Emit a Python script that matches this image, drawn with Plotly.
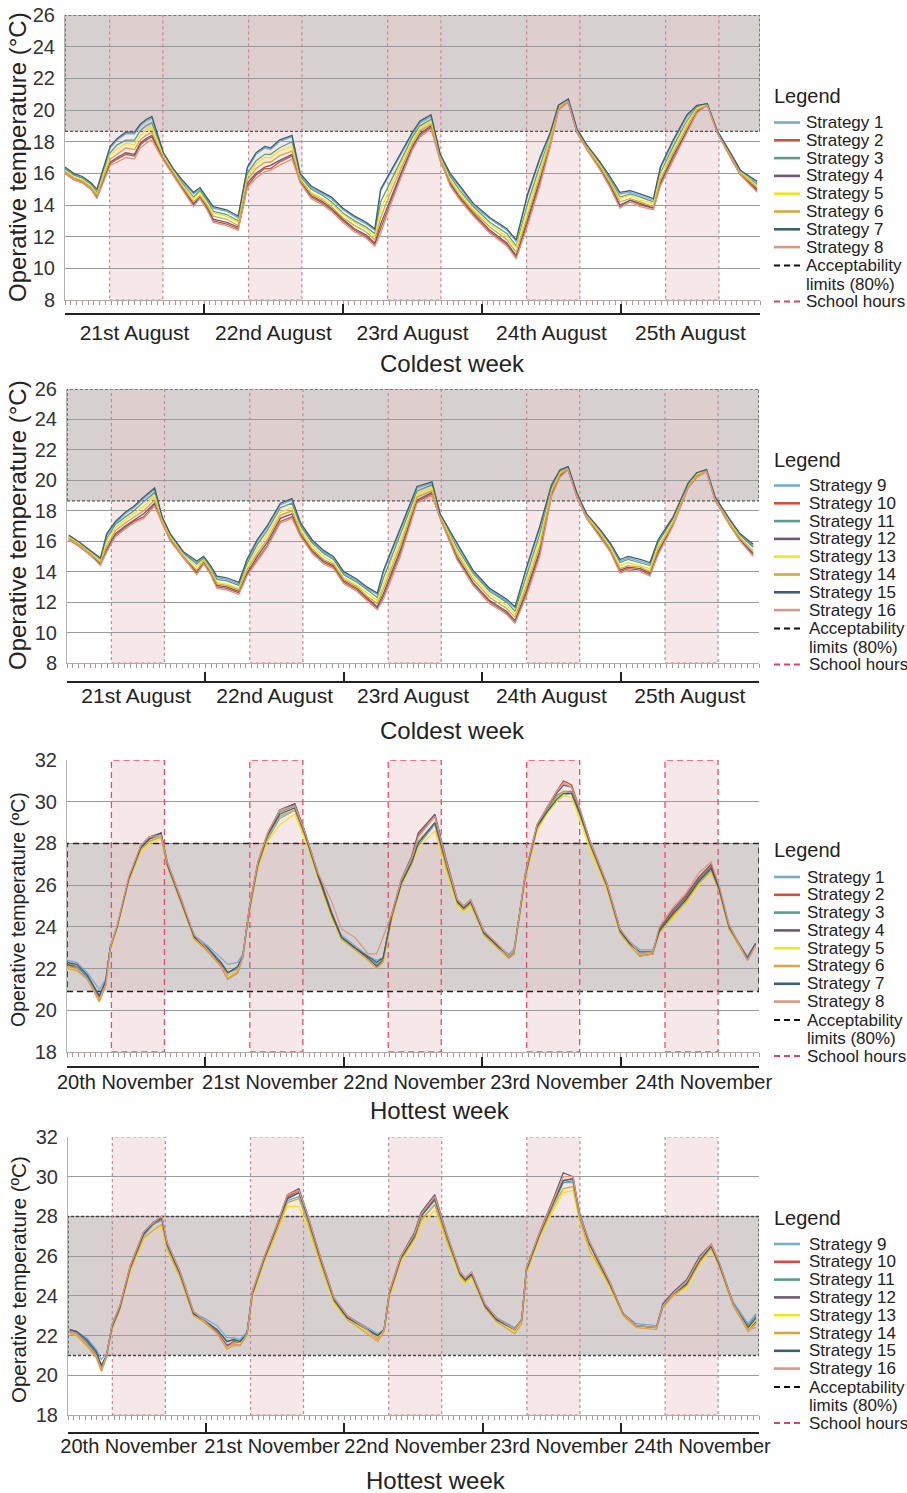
import plotly.graph_objects as go

W, H = 907, 1493
FONT = "Liberation Sans, Arial, Helvetica, sans-serif"

# ---------------- data ----------------
cold_days = ["21st August", "22nd August", "23rd August", "24th August", "25th August"]
hot_days = ["20th November", "21st November", "22nd November", "23rd November", "24th November"]
day_start_hours = [0, 24, 48, 72, 96, 120]
school_start = [7.7, 31.7, 55.7, 79.7, 103.7]
school_end = [16.9, 40.9, 64.9, 88.9, 112.9]
cold_limits = [18.65, 26.0]
hot_limits_a = [20.9, 28.0]
hot_limits_b = [21.0, 28.0]

names_a = ["Strategy 1", "Strategy 2", "Strategy 3", "Strategy 4",
           "Strategy 5", "Strategy 6", "Strategy 7", "Strategy 8"]
names_b = ["Strategy 9", "Strategy 10", "Strategy 11", "Strategy 12",
           "Strategy 13", "Strategy 14", "Strategy 15", "Strategy 16"]
strategy_colors = ["#74acd0", "#d0503a", "#5c9c8c", "#6e5a70",
                   "#f4e41c", "#d8a83a", "#3e5e72", "#dc9684"]

# Panel 1: coldest week, strategies 1-8
hours_c1 = [0, 1.5, 3, 4.5, 5.5, 7.8, 9, 10.5, 12, 13,
            14, 15, 17, 18.7, 20.2, 22.2, 23.3, 24.5, 25.6, 27.9,
            29.9, 31.5, 33, 34.5, 35.5, 37, 39.2, 40.6, 42.5, 44.5,
            46, 48, 50, 52, 53.5, 54.5, 56, 58, 60, 61.3,
            63.2, 64.8, 66.5, 68.2, 70.5, 73.4, 76.3, 77.9, 79.8, 82,
            83.8, 85.2, 86.9, 88.4, 90.1, 92.4, 94.1, 95.8, 97.6, 99.3,
            101.6, 102.8, 105, 107.4, 109.1, 110.9, 112.6, 114.9, 116.6, 119.5]
c1_s1 = [16.3, 15.9, 15.7, 15.3, 14.9, 17.6, 18.1, 18.5, 18.5, 19.0,
         19.3, 19.5, 17.2, 16.2, 15.5, 14.7, 15.0, 14.4, 13.8, 13.6,
         13.2, 16.3, 17.2, 17.6, 17.5, 18.0, 18.3, 15.9, 15.1, 14.7,
         14.4, 13.7, 13.2, 12.8, 12.4, 14.9, 15.9, 17.2, 18.5, 19.2,
         19.6, 17.1, 15.9, 15.1, 14.0, 13.1, 12.4, 11.7, 14.5, 16.9,
         18.5, 20.3, 20.7, 18.8, 17.8, 16.6, 15.7, 14.7, 14.8, 14.6,
         14.3, 16.3, 18.0, 19.6, 20.2, 20.4, 18.7, 17.3, 16.2, 15.4]
c1_s2 = [16.0, 15.6, 15.4, 15.0, 14.5, 16.6, 16.9, 17.2, 17.1, 17.8,
         18.1, 18.3, 16.9, 15.9, 15.1, 14.0, 14.5, 13.8, 13.0, 12.8,
         12.5, 15.2, 15.9, 16.3, 16.3, 16.7, 17.1, 15.5, 14.5, 14.1,
         13.7, 13.0, 12.4, 12.0, 11.5, 12.5, 14.0, 15.9, 17.6, 18.4,
         18.9, 16.8, 15.3, 14.4, 13.4, 12.3, 11.5, 10.7, 12.8, 15.4,
         17.8, 20.0, 20.5, 18.6, 17.5, 16.3, 15.2, 13.9, 14.3, 14.0,
         13.8, 15.3, 16.9, 18.6, 19.9, 20.3, 18.6, 17.0, 15.9, 14.9]
c1_s3 = [16.3, 15.9, 15.7, 15.3, 14.8, 17.3, 17.8, 18.1, 18.1, 18.7,
         19.0, 19.2, 17.2, 16.2, 15.4, 14.5, 14.9, 14.3, 13.6, 13.4,
         13.0, 16.0, 16.8, 17.2, 17.2, 17.6, 18.0, 15.8, 15.0, 14.6,
         14.2, 13.5, 13.0, 12.6, 12.2, 14.2, 15.3, 16.8, 18.3, 19.0,
         19.4, 17.1, 15.8, 14.9, 13.9, 12.9, 12.2, 11.4, 14.0, 16.5,
         18.3, 20.2, 20.6, 18.7, 17.7, 16.6, 15.6, 14.5, 14.7, 14.5,
         14.2, 16.0, 17.7, 19.3, 20.2, 20.4, 18.7, 17.2, 16.1, 15.3]
c1_s4 = [16.1, 15.7, 15.5, 15.1, 14.5, 16.7, 17.0, 17.3, 17.2, 17.9,
         18.2, 18.4, 16.9, 15.9, 15.1, 14.1, 14.5, 13.9, 13.1, 12.9,
         12.6, 15.4, 16.0, 16.4, 16.5, 16.8, 17.2, 15.5, 14.6, 14.2,
         13.8, 13.1, 12.5, 12.1, 11.6, 12.8, 14.2, 16.0, 17.7, 18.5,
         19.0, 16.9, 15.4, 14.5, 13.5, 12.4, 11.6, 10.8, 13.0, 15.6,
         17.9, 20.1, 20.5, 18.6, 17.6, 16.3, 15.3, 14.0, 14.3, 14.1,
         13.8, 15.4, 17.1, 18.7, 19.9, 20.3, 18.6, 17.1, 16.0, 15.0]
c1_s5 = [16.2, 15.8, 15.6, 15.2, 14.7, 17.2, 17.5, 17.9, 17.8, 18.4,
         18.7, 18.9, 17.1, 16.1, 15.3, 14.4, 14.8, 14.1, 13.5, 13.3,
         12.9, 15.8, 16.6, 17.0, 17.0, 17.4, 17.7, 15.7, 14.8, 14.4,
         14.1, 13.4, 12.9, 12.5, 12.0, 13.7, 15.0, 16.6, 18.1, 18.9,
         19.3, 17.0, 15.6, 14.8, 13.7, 12.8, 12.0, 11.3, 13.7, 16.2,
         18.2, 20.2, 20.6, 18.7, 17.7, 16.5, 15.5, 14.4, 14.6, 14.3,
         14.1, 15.9, 17.5, 19.2, 20.1, 20.4, 18.7, 17.2, 16.1, 15.2]
c1_s6 = [16.1, 15.7, 15.5, 15.1, 14.6, 16.9, 17.2, 17.6, 17.5, 18.1,
         18.4, 18.6, 17.0, 16.0, 15.2, 14.2, 14.6, 14.0, 13.3, 13.1,
         12.7, 15.6, 16.3, 16.7, 16.7, 17.1, 17.4, 15.6, 14.7, 14.3,
         13.9, 13.2, 12.7, 12.3, 11.8, 13.2, 14.6, 16.3, 17.9, 18.7,
         19.1, 16.9, 15.5, 14.6, 13.6, 12.6, 11.8, 11.0, 13.3, 15.8,
         18.0, 20.1, 20.6, 18.7, 17.6, 16.4, 15.4, 14.2, 14.4, 14.2,
         13.9, 15.6, 17.3, 18.9, 20.0, 20.3, 18.6, 17.1, 16.0, 15.1]
c1_s7 = [16.4, 16.0, 15.8, 15.4, 15.0, 17.7, 18.2, 18.6, 18.6, 19.1,
         19.4, 19.6, 17.3, 16.3, 15.6, 14.8, 15.1, 14.5, 13.9, 13.7,
         13.3, 16.4, 17.3, 17.7, 17.6, 18.1, 18.4, 16.0, 15.2, 14.8,
         14.5, 13.8, 13.3, 12.9, 12.5, 15.0, 16.0, 17.3, 18.6, 19.3,
         19.7, 17.2, 16.0, 15.2, 14.1, 13.2, 12.5, 11.8, 14.6, 17.0,
         18.6, 20.3, 20.7, 18.8, 17.8, 16.7, 15.8, 14.8, 14.9, 14.7,
         14.4, 16.4, 18.1, 19.7, 20.3, 20.4, 18.7, 17.3, 16.2, 15.5]
c1_s8 = [16.0, 15.6, 15.4, 15.0, 14.4, 16.5, 16.7, 17.0, 16.9, 17.6,
         17.9, 18.1, 16.8, 15.8, 15.0, 13.9, 14.4, 13.7, 12.9, 12.7,
         12.4, 15.1, 15.7, 16.1, 16.2, 16.5, 16.9, 15.4, 14.4, 14.0,
         13.6, 12.9, 12.3, 11.9, 11.4, 12.2, 13.8, 15.7, 17.5, 18.3,
         18.8, 16.8, 15.2, 14.3, 13.3, 12.2, 11.4, 10.6, 12.6, 15.2,
         17.7, 20.0, 20.5, 18.6, 17.5, 16.2, 15.1, 13.8, 14.2, 13.9,
         13.7, 15.2, 16.8, 18.5, 19.8, 20.3, 18.6, 17.0, 15.9, 14.8]

# Panel 2: coldest week, strategies 9-16
hours_c2 = [0.3, 2.3, 4, 5.8, 6.9, 8.4, 10.1, 11.6, 13.3, 15.2,
            16.5, 17.9, 20.2, 22.5, 23.7, 24.9, 26, 27.7, 29.8, 31.2,
            33, 34.7, 37, 39, 40.5, 42.5, 44.5, 46.2, 48, 50.3,
            52, 53.8, 54.9, 57.8, 60.7, 63.3, 64.7, 67.6, 70.4, 73.3,
            76.2, 77.7, 79.7, 82, 84, 85.5, 86.9, 88.4, 90.1, 92.4,
            94.2, 95.9, 97.3, 99.4, 101.1, 102.5, 105.1, 107.7, 109.2, 110.9,
            112.4, 115, 116.7, 119]
c2_s9 = [16.3, 15.8, 15.3, 14.8, 16.4, 17.2, 17.8, 18.2, 18.8, 19.4,
         17.5, 16.4, 15.2, 14.6, 14.9, 14.3, 13.6, 13.5, 13.2, 14.7,
         16.0, 16.9, 18.4, 18.7, 17.1, 16.0, 15.3, 14.9, 13.9, 13.4,
         12.9, 12.5, 14.0, 16.8, 19.5, 19.8, 17.8, 15.8, 14.0, 12.8,
         12.1, 11.6, 14.2, 16.9, 19.6, 20.6, 20.9, 19.1, 17.8, 16.7,
         15.8, 14.7, 14.9, 14.7, 14.5, 16.0, 17.5, 19.8, 20.5, 20.7,
         18.9, 17.3, 16.4, 15.7]
c2_s10 = [16.1, 15.6, 15.1, 14.5, 15.4, 16.4, 16.9, 17.3, 17.6, 18.4,
          17.2, 16.1, 14.9, 13.9, 14.6, 13.9, 13.0, 12.9, 12.6, 13.8,
          14.8, 15.7, 17.3, 17.6, 16.4, 15.3, 14.6, 14.3, 13.3, 12.8,
          12.2, 11.6, 12.4, 15.2, 18.6, 19.1, 17.5, 14.9, 13.2, 12.0,
          11.3, 10.7, 12.6, 15.2, 19.0, 20.3, 20.7, 18.9, 17.5, 16.4,
          15.4, 14.0, 14.2, 14.1, 13.8, 15.2, 17.1, 19.5, 20.2, 20.6,
          18.7, 17.0, 16.1, 15.1]
c2_s11 = [16.3, 15.8, 15.3, 14.8, 16.2, 17.1, 17.6, 18.0, 18.6, 19.2,
          17.5, 16.4, 15.2, 14.5, 14.9, 14.2, 13.5, 13.4, 13.1, 14.5,
          15.8, 16.7, 18.2, 18.5, 17.0, 15.9, 15.2, 14.8, 13.8, 13.3,
          12.8, 12.3, 13.6, 16.4, 19.3, 19.7, 17.7, 15.6, 13.9, 12.7,
          12.0, 11.4, 13.8, 16.5, 19.5, 20.6, 20.8, 19.1, 17.7, 16.7,
          15.8, 14.6, 14.8, 14.6, 14.4, 15.9, 17.5, 19.7, 20.4, 20.7,
          18.8, 17.3, 16.4, 15.6]
c2_s12 = [16.2, 15.7, 15.2, 14.5, 15.5, 16.5, 17.0, 17.4, 17.8, 18.5,
          17.3, 16.1, 15.0, 14.0, 14.6, 13.9, 13.1, 13.0, 12.7, 13.9,
          15.0, 15.9, 17.5, 17.8, 16.5, 15.4, 14.7, 14.4, 13.4, 12.9,
          12.3, 11.7, 12.6, 15.4, 18.7, 19.2, 17.6, 15.0, 13.3, 12.1,
          11.4, 10.8, 12.8, 15.4, 19.1, 20.3, 20.7, 19.0, 17.6, 16.4,
          15.4, 14.1, 14.3, 14.2, 13.9, 15.3, 17.1, 19.6, 20.3, 20.6,
          18.7, 17.1, 16.1, 15.2]
c2_s13 = [16.3, 15.8, 15.3, 14.7, 16.0, 16.9, 17.4, 17.8, 18.3, 19.0,
          17.4, 16.3, 15.1, 14.3, 14.8, 14.1, 13.3, 13.2, 12.9, 14.3,
          15.5, 16.4, 17.9, 18.2, 16.8, 15.7, 15.0, 14.6, 13.6, 13.1,
          12.6, 12.1, 13.2, 16.0, 19.1, 19.5, 17.7, 15.4, 13.7, 12.5,
          11.8, 11.2, 13.4, 16.1, 19.3, 20.5, 20.8, 19.1, 17.7, 16.6,
          15.6, 14.4, 14.6, 14.4, 14.2, 15.7, 17.3, 19.7, 20.4, 20.7,
          18.8, 17.2, 16.3, 15.4]
c2_s14 = [16.2, 15.7, 15.2, 14.6, 15.7, 16.7, 17.2, 17.6, 18.0, 18.7,
          17.3, 16.2, 15.0, 14.1, 14.7, 14.0, 13.2, 13.1, 12.8, 14.1,
          15.2, 16.1, 17.7, 18.0, 16.6, 15.5, 14.8, 14.5, 13.5, 13.0,
          12.4, 11.9, 12.9, 15.7, 18.9, 19.3, 17.6, 15.2, 13.5, 12.3,
          11.6, 11.0, 13.1, 15.7, 19.2, 20.4, 20.8, 19.0, 17.6, 16.5,
          15.5, 14.2, 14.4, 14.3, 14.0, 15.5, 17.2, 19.6, 20.3, 20.6,
          18.8, 17.1, 16.2, 15.3]
c2_s15 = [16.4, 15.9, 15.4, 14.9, 16.5, 17.3, 17.9, 18.3, 18.9, 19.5,
          17.6, 16.5, 15.3, 14.7, 15.0, 14.4, 13.7, 13.6, 13.3, 14.8,
          16.1, 17.0, 18.5, 18.8, 17.2, 16.1, 15.4, 15.0, 14.0, 13.5,
          13.0, 12.6, 14.1, 16.9, 19.6, 19.9, 17.8, 15.9, 14.1, 12.9,
          12.2, 11.7, 14.3, 17.0, 19.7, 20.7, 20.9, 19.2, 17.8, 16.8,
          15.9, 14.8, 15.0, 14.8, 14.6, 16.1, 17.6, 19.8, 20.5, 20.7,
          18.9, 17.4, 16.5, 15.8]
c2_s16 = [16.1, 15.6, 15.1, 14.4, 15.3, 16.3, 16.8, 17.2, 17.5, 18.3,
          17.2, 16.0, 14.9, 13.8, 14.5, 13.8, 12.9, 12.8, 12.5, 13.7,
          14.7, 15.6, 17.2, 17.5, 16.3, 15.2, 14.5, 14.2, 13.2, 12.7,
          12.1, 11.5, 12.2, 15.0, 18.5, 19.0, 17.5, 14.8, 13.1, 11.9,
          11.2, 10.6, 12.4, 15.0, 18.9, 20.2, 20.7, 18.9, 17.5, 16.3,
          15.3, 13.9, 14.1, 14.0, 13.7, 15.1, 17.0, 19.5, 20.2, 20.6,
          18.7, 17.0, 16.0, 15.0]

# Panel 3: hottest week, strategies 1-8
hours_h1 = [0, 1.7, 3.5, 5.2, 5.6, 6.7, 7.5, 8.7, 10.7, 12.8,
            14.2, 16.3, 17.4, 19.7, 22.1, 24.4, 26.7, 27.9, 29.6, 30.5,
            31.6, 33.1, 34.8, 36.9, 39.5, 41.2, 43.5, 45.9, 47.6, 49.9,
            52.2, 53.7, 54.8, 56.3, 58, 59.8, 60.9, 63.8, 65.8, 67.7,
            68.8, 70, 72.3, 74.6, 76.6, 77.5, 79.5, 81.5, 83.2, 84.9,
            86.1, 87.5, 89, 90.7, 93.6, 95.9, 97.6, 99.3, 101.6, 102.7,
            105, 107.3, 109.6, 111.7, 113.1, 114.8, 116.5, 118, 119.4]
h1_s1 = [22.4, 22.3, 21.8, 21.1, 21.0, 21.5, 23.0, 24.0, 26.2, 27.7,
         28.1, 28.3, 27.0, 25.3, 23.6, 23.1, 22.5, 22.2, 22.3, 22.7,
         24.7, 26.9, 28.2, 29.2, 29.6, 28.4, 26.5, 24.6, 23.6, 23.1,
         22.6, 22.4, 22.5, 24.4, 26.0, 27.0, 27.9, 28.9, 26.9, 25.2,
         24.9, 25.2, 23.7, 23.1, 22.7, 22.9, 26.4, 28.7, 29.5, 30.0,
         30.3, 30.4, 29.3, 28.0, 26.0, 23.8, 23.3, 22.9, 22.9, 23.8,
         24.5, 25.2, 26.1, 26.6, 25.8, 24.0, 23.2, 22.6, 23.2]
h1_s2 = [22.2, 22.1, 21.6, 20.8, 20.6, 21.3, 23.0, 24.0, 26.3, 27.8,
         28.2, 28.5, 27.0, 25.3, 23.5, 22.9, 22.2, 21.6, 21.9, 22.6,
         24.8, 27.0, 28.4, 29.6, 29.9, 28.6, 26.5, 24.6, 23.5, 23.0,
         22.5, 22.1, 22.4, 24.5, 26.2, 27.3, 28.4, 29.3, 27.1, 25.2,
         24.9, 25.2, 23.7, 23.1, 22.6, 22.8, 26.5, 28.8, 29.7, 30.5,
         31.0, 30.8, 29.6, 28.1, 26.0, 23.8, 23.2, 22.7, 22.8, 23.8,
         24.7, 25.4, 26.3, 26.9, 25.8, 24.0, 23.2, 22.5, 23.2]
h1_s3 = [22.3, 22.1, 21.6, 20.9, 20.7, 21.3, 23.0, 24.0, 26.3, 27.8,
         28.2, 28.4, 27.0, 25.3, 23.5, 22.9, 22.3, 21.8, 22.0, 22.6,
         24.8, 27.0, 28.4, 29.5, 29.8, 28.5, 26.5, 24.6, 23.5, 23.0,
         22.5, 22.2, 22.4, 24.5, 26.2, 27.2, 28.1, 29.0, 27.0, 25.2,
         24.9, 25.2, 23.7, 23.1, 22.6, 22.8, 26.5, 28.8, 29.6, 30.3,
         30.5, 30.5, 29.4, 28.0, 26.0, 23.8, 23.2, 22.7, 22.8, 23.8,
         24.6, 25.3, 26.2, 26.8, 25.8, 24.0, 23.2, 22.5, 23.2]
h1_s4 = [22.2, 22.0, 21.5, 20.7, 20.5, 21.2, 23.0, 24.0, 26.3, 27.9,
         28.3, 28.5, 27.1, 25.4, 23.5, 22.9, 22.1, 21.5, 21.8, 22.6,
         24.9, 27.1, 28.5, 29.6, 29.9, 28.6, 26.6, 24.7, 23.5, 23.0,
         22.5, 22.1, 22.4, 24.6, 26.3, 27.4, 28.5, 29.4, 27.2, 25.3,
         25.0, 25.3, 23.8, 23.1, 22.5, 22.7, 26.6, 28.9, 29.7, 30.4,
         30.8, 30.7, 29.5, 28.1, 26.1, 23.9, 23.2, 22.6, 22.7, 23.9,
         24.8, 25.5, 26.4, 27.0, 25.9, 24.1, 23.2, 22.4, 23.1]
h1_s5 = [22.0, 22.0, 21.5, 20.7, 20.5, 21.2, 22.9, 23.9, 26.2, 27.6,
         28.0, 28.2, 26.9, 25.2, 23.4, 22.8, 22.1, 21.6, 21.9, 22.5,
         24.7, 26.8, 28.1, 28.9, 29.4, 28.2, 26.3, 24.4, 23.4, 22.9,
         22.4, 22.0, 22.3, 24.3, 26.0, 27.0, 27.8, 28.6, 26.6, 25.0,
         24.7, 25.0, 23.6, 23.0, 22.6, 22.8, 26.3, 28.6, 29.4, 30.0,
         30.3, 30.2, 29.0, 27.7, 25.8, 23.7, 23.1, 22.7, 22.8, 23.7,
         24.4, 25.1, 26.0, 26.6, 25.7, 23.9, 23.1, 22.5, 23.1]
h1_s6 = [22.0, 21.9, 21.5, 20.6, 20.4, 21.2, 22.9, 24.0, 26.2, 27.7,
         28.1, 28.3, 26.9, 25.2, 23.4, 22.8, 22.1, 21.5, 21.8, 22.5,
         24.7, 26.9, 28.3, 29.3, 29.6, 28.4, 26.4, 24.5, 23.4, 22.9,
         22.4, 22.0, 22.3, 24.4, 26.1, 27.1, 28.1, 28.9, 26.8, 25.1,
         24.8, 25.1, 23.6, 23.0, 22.5, 22.7, 26.4, 28.7, 29.5, 30.2,
         30.5, 30.4, 29.3, 27.9, 25.9, 23.7, 23.1, 22.6, 22.7, 23.7,
         24.5, 25.2, 26.1, 26.7, 25.7, 23.9, 23.1, 22.4, 23.1]
h1_s7 = [22.3, 22.2, 21.7, 20.9, 20.7, 21.4, 23.0, 24.0, 26.3, 27.8,
         28.2, 28.5, 27.0, 25.3, 23.5, 23.0, 22.3, 21.8, 22.1, 22.6,
         24.8, 27.0, 28.4, 29.4, 29.7, 28.5, 26.5, 24.6, 23.5, 23.0,
         22.6, 22.3, 22.5, 24.5, 26.1, 27.1, 28.0, 29.0, 27.0, 25.2,
         24.9, 25.2, 23.7, 23.1, 22.6, 22.8, 26.5, 28.8, 29.5, 30.1,
         30.4, 30.4, 29.4, 28.0, 26.0, 23.8, 23.2, 22.8, 22.8, 23.8,
         24.6, 25.3, 26.2, 26.8, 25.8, 24.0, 23.2, 22.5, 23.2]
h1_s8 = [22.1, 22.0, 21.5, 20.7, 20.5, 21.2, 23.0, 24.1, 26.4, 27.9,
         28.3, 28.4, 27.1, 25.4, 23.6, 22.9, 22.1, 21.5, 21.8, 22.6,
         24.9, 27.1, 28.5, 29.6, 29.8, 28.6, 26.6, 25.2, 23.9, 23.5,
         22.7, 22.7, 23.5, 24.6, 26.3, 27.3, 28.3, 29.3, 27.1, 25.3,
         25.0, 25.3, 23.8, 23.2, 22.6, 22.8, 26.6, 28.9, 29.7, 30.5,
         30.9, 30.7, 29.6, 28.1, 26.1, 23.9, 23.3, 22.7, 22.8, 24.0,
         24.9, 25.6, 26.6, 27.1, 26.0, 24.1, 23.2, 22.4, 23.1]

# Panel 4: hottest week, strategies 9-16
hours_h2 = [0.3, 1.5, 3.2, 4.9, 5.8, 6.7, 7.6, 9, 10.8, 13.1,
            14.8, 16.3, 17.2, 19.5, 21.8, 23.5, 25.9, 27.6, 28.8, 29.9,
            31.1, 32, 34, 36.3, 38.1, 40.1, 41.6, 43.9, 46.2, 48.5,
            51.5, 53.8, 54.9, 55.8, 57.8, 60.2, 61.3, 63.7, 65.8, 68.1,
            69, 70.1, 72.4, 74.4, 77.6, 78.8, 79.6, 81.9, 84.3, 86,
            87.7, 88.9, 90.6, 94.1, 96.4, 98.7, 102.2, 103.3, 105.1, 107.4,
            109.7, 111.7, 113.2, 115.5, 118.1, 119.5]
h2_s9 = [22.3, 22.2, 21.9, 21.3, 20.8, 21.1, 22.4, 23.4, 25.3, 27.0,
         27.6, 27.8, 26.5, 25.0, 23.1, 22.9, 22.5, 21.9, 21.9, 21.8,
         22.2, 24.0, 25.7, 27.4, 28.8, 29.0, 27.8, 25.7, 23.8, 23.0,
         22.5, 22.1, 22.3, 24.0, 25.8, 26.9, 27.8, 28.6, 26.9, 25.1,
         24.8, 25.1, 23.5, 22.9, 22.4, 22.8, 25.2, 27.0, 28.6, 29.7,
         29.7, 28.2, 26.6, 24.6, 23.1, 22.6, 22.5, 23.5, 24.1, 24.6,
         25.7, 26.4, 25.5, 23.7, 22.6, 23.1]
h2_s10 = [22.3, 22.2, 21.7, 21.1, 20.4, 21.0, 22.4, 23.4, 25.4, 27.1,
          27.6, 27.9, 26.6, 25.1, 23.1, 22.8, 22.2, 21.5, 21.7, 21.6,
          22.1, 24.1, 25.8, 27.5, 29.0, 29.3, 28.0, 25.8, 23.8, 22.9,
          22.4, 21.9, 22.3, 24.1, 25.9, 27.1, 28.1, 29.0, 27.0, 25.1,
          24.8, 25.1, 23.5, 22.8, 22.3, 22.8, 25.3, 27.1, 28.8, 29.8,
          29.9, 28.0, 26.6, 24.6, 23.1, 22.5, 22.4, 23.5, 24.1, 24.6,
          25.8, 26.5, 25.5, 23.6, 22.4, 22.8]
h2_s11 = [22.3, 22.2, 21.7, 21.1, 20.5, 21.0, 22.4, 23.4, 25.4, 27.1,
          27.6, 27.9, 26.6, 25.1, 23.1, 22.8, 22.3, 21.7, 21.8, 21.7,
          22.1, 24.1, 25.8, 27.5, 28.9, 29.2, 28.0, 25.8, 23.8, 22.9,
          22.4, 22.0, 22.3, 24.1, 25.9, 27.0, 28.0, 28.8, 27.0, 25.1,
          24.8, 25.1, 23.5, 22.8, 22.3, 22.8, 25.3, 27.1, 28.7, 29.7,
          29.8, 28.0, 26.6, 24.6, 23.1, 22.5, 22.4, 23.5, 24.1, 24.6,
          25.8, 26.5, 25.5, 23.6, 22.5, 23.0]
h2_s12 = [22.2, 22.1, 21.6, 21.0, 20.3, 20.9, 22.5, 23.5, 25.5, 27.2,
          27.7, 28.0, 26.7, 25.2, 23.2, 22.8, 22.1, 21.5, 21.6, 21.6,
          22.1, 24.2, 25.9, 27.6, 29.1, 29.4, 28.1, 25.9, 23.9, 23.0,
          22.4, 21.9, 22.3, 24.2, 26.0, 27.2, 28.2, 29.1, 27.1, 25.2,
          24.9, 25.2, 23.6, 22.9, 22.3, 22.8, 25.4, 27.2, 28.9, 30.2,
          30.0, 28.0, 26.7, 24.7, 23.1, 22.5, 22.4, 23.6, 24.2, 24.8,
          26.0, 26.6, 25.6, 23.6, 22.3, 22.7]
h2_s13 = [22.1, 22.0, 21.5, 20.9, 20.2, 20.9, 22.3, 23.3, 25.2, 26.8,
          27.3, 27.5, 26.3, 24.9, 23.0, 22.7, 22.1, 21.4, 21.6, 21.6,
          22.0, 23.9, 25.6, 27.2, 28.5, 28.5, 27.5, 25.5, 23.6, 22.8,
          22.3, 21.9, 22.2, 23.9, 25.7, 26.8, 27.6, 28.3, 26.7, 24.9,
          24.6, 24.9, 23.4, 22.7, 22.2, 22.7, 25.1, 26.9, 28.3, 29.2,
          29.3, 27.7, 26.2, 24.4, 23.0, 22.5, 22.4, 23.4, 24.0, 24.4,
          25.6, 26.3, 25.4, 23.5, 22.3, 22.8]
h2_s14 = [22.1, 22.0, 21.5, 20.9, 20.2, 20.9, 22.3, 23.3, 25.3, 26.9,
          27.3, 27.6, 26.4, 24.9, 23.0, 22.7, 22.1, 21.3, 21.5, 21.5,
          22.0, 24.0, 25.7, 27.3, 28.7, 28.9, 27.7, 25.6, 23.7, 22.8,
          22.2, 21.7, 22.2, 24.0, 25.8, 26.9, 27.8, 28.6, 26.8, 25.0,
          24.7, 25.0, 23.4, 22.7, 22.1, 22.6, 25.2, 27.0, 28.5, 29.4,
          29.5, 27.8, 26.3, 24.5, 23.0, 22.4, 22.3, 23.4, 24.0, 24.5,
          25.7, 26.4, 25.4, 23.5, 22.2, 22.6]
h2_s15 = [22.3, 22.2, 21.8, 21.2, 20.5, 21.0, 22.4, 23.4, 25.4, 27.1,
          27.7, 27.9, 26.6, 25.1, 23.1, 22.8, 22.3, 21.7, 21.8, 21.7,
          22.1, 24.1, 25.8, 27.5, 28.9, 29.2, 28.0, 25.8, 23.8, 22.9,
          22.4, 22.0, 22.3, 24.1, 25.9, 27.0, 28.0, 28.9, 27.0, 25.1,
          24.8, 25.1, 23.5, 22.8, 22.3, 22.8, 25.3, 27.1, 28.7, 29.8,
          29.9, 28.0, 26.6, 24.6, 23.1, 22.5, 22.4, 23.5, 24.1, 24.6,
          25.8, 26.5, 25.5, 23.6, 22.4, 22.9]
h2_s16 = [22.2, 22.1, 21.6, 21.0, 20.3, 21.0, 22.5, 23.5, 25.5, 27.2,
          27.7, 28.0, 26.7, 25.2, 23.2, 22.8, 22.1, 21.4, 21.6, 21.5,
          22.1, 24.2, 25.9, 27.6, 29.1, 29.3, 28.1, 25.9, 23.9, 23.0,
          22.4, 21.8, 22.3, 24.2, 26.0, 27.1, 28.1, 29.0, 27.1, 25.2,
          24.9, 25.2, 23.6, 22.9, 22.3, 22.8, 25.4, 27.2, 28.8, 30.0,
          30.0, 28.0, 26.7, 24.7, 23.1, 22.5, 22.4, 23.5, 24.1, 24.7,
          25.9, 26.6, 25.6, 23.6, 22.3, 22.4]

# ---------------- layout helpers ----------------
def px_x(p):
    return p / W


def px_y(p):
    return 1 - p / H


def axkey(letter, n):
    return f"{letter}axis" + ("" if n == 1 else str(n))


panels = [
    dict(hours=hours_c1, series=[c1_s1, c1_s2, c1_s3, c1_s4, c1_s5, c1_s6, c1_s7, c1_s8],
         names=names_a, days=cold_days, yr=[8, 26], limits=cold_limits,
         x0=65, x1=760, y0=15, y1=300, axis_line=314, label_axis=318, day_font=21,
         label_x0=65, label_x1=760,
         ytitle="Operative temperature (°C)", ytitle_y=157, ytitle_font=24,
         week="Coldest week", week_x=452, week_y=363,
         leg_title_y=96, leg_start=122.5, leg_text_x=804,
         band_line=dict(color="#555555", width=1.4, dash="3px,2px"),
         rect_line=dict(color="#c08a96", width=1.2, dash="3px,3px")),
    dict(hours=hours_c2, series=[c2_s9, c2_s10, c2_s11, c2_s12, c2_s13, c2_s14, c2_s15, c2_s16],
         names=names_b, days=cold_days, yr=[8, 26], limits=cold_limits,
         x0=67, x1=759, y0=389, y1=663, axis_line=682, label_axis=681, day_font=21,
         label_x0=67, label_x1=759,
         ytitle="Operative temperature (°C)", ytitle_y=525, ytitle_font=24,
         week="Coldest week", week_x=452, week_y=730,
         leg_title_y=460, leg_start=485.5, leg_text_x=807,
         band_line=dict(color="#555555", width=1.4, dash="3px,2px"),
         rect_line=dict(color="#c08a96", width=1.2, dash="3px,3px")),
    dict(hours=hours_h1, series=[h1_s1, h1_s2, h1_s3, h1_s4, h1_s5, h1_s6, h1_s7, h1_s8],
         names=names_a, days=hot_days, yr=[18, 32], limits=hot_limits_a,
         x0=67, x1=759, y0=760, y1=1052, axis_line=1067, label_axis=1068, day_font=20,
         label_x0=53, label_x1=776,
         ytitle="Operative temperature (ºC)", ytitle_y=910, ytitle_font=19.5,
         week="Hottest week", week_x=440, week_y=1110,
         leg_title_y=850, leg_start=877, leg_text_x=805,
         band_line=dict(color="#222222", width=1.6, dash="6px,4px"),
         rect_line=dict(color="#e2506e", width=1.3, dash="6px,4px")),
    dict(hours=hours_h2, series=[h2_s9, h2_s10, h2_s11, h2_s12, h2_s13, h2_s14, h2_s15, h2_s16],
         names=names_b, days=hot_days, yr=[18, 32], limits=hot_limits_b,
         x0=68, x1=759, y0=1137, y1=1415, axis_line=1433, label_axis=1432, day_font=20,
         label_x0=57, label_x1=774,
         ytitle="Operative temperature (ºC)", ytitle_y=1280, ytitle_font=20.5,
         week="Hottest week", week_x=436, week_y=1480,
         leg_title_y=1218, leg_start=1244, leg_text_x=807,
         band_line=dict(color="#444444", width=1.4, dash="3px,2px"),
         rect_line=dict(color="#c08a96", width=1.2, dash="3px,3px")),
]

fig = go.Figure()
layout = dict(
    width=W, height=H, autosize=False,
    margin=dict(l=0, r=0, t=0, b=0, pad=0),
    paper_bgcolor="white", plot_bgcolor="white",
    font=dict(family=FONT, color="#222222"),
    showlegend=False, template="none",
)
shapes = []
annotations = []

hour_ticks = list(range(day_start_hours[0], day_start_hours[-1] + 1))
day_mid = [(a + b) / 2 for a, b in zip(day_start_hours[:-1], day_start_hours[1:])]

band_fill = "rgb(214,208,208)"
school_fill = "rgba(236,205,205,0.45)"

for i, p in enumerate(panels):
    nm, nb, nl, ny = 3 * i + 1, 3 * i + 2, 3 * i + 3, i + 1
    xm, xb, xl, ya = f"x{nm}", f"x{nb}", f"x{nl}", f"y{ny}"
    dom_x = [px_x(p["x0"]), px_x(p["x1"])]
    dom_y = [px_y(p["y1"]), px_y(p["y0"])]
    xr = [day_start_hours[0], day_start_hours[-1]]
    # label axis range: spreads the day labels over [label_x0, label_x1] pixels
    span = xr[1] - xr[0]
    lscale = (p["label_x1"] - p["label_x0"]) / span
    label_range = [xr[0] + (p["x0"] - p["label_x0"]) / lscale,
                   xr[0] + (p["x1"] - p["label_x0"]) / lscale]

    layout[axkey("y", ny)] = dict(
        domain=dom_y, range=p["yr"], anchor=xm, dtick=2, tick0=p["yr"][0],
        showgrid=True, gridcolor="#9a9a9a", gridwidth=1, zeroline=False,
        showline=True, linecolor="#b4b4b4", linewidth=1, ticks="",
        ticklabelstandoff=5, tickfont=dict(size=20, color="#333333", family=FONT),
        fixedrange=True)
    layout[axkey("x", nm)] = dict(
        domain=dom_x, range=xr, anchor=ya, showgrid=False, zeroline=False,
        showline=True, linecolor="#b8a6a6", linewidth=1,
        tickmode="array", tickvals=hour_ticks, ticks="outside", ticklen=4,
        tickwidth=1, tickcolor="#a89696", showticklabels=False, fixedrange=True)
    layout[axkey("x", nb)] = dict(
        domain=dom_x, range=xr, overlaying=xm, anchor="free",
        position=px_y(p["axis_line"]), showgrid=False, zeroline=False,
        showline=True, linecolor="#222222", linewidth=2,
        tickmode="array", tickvals=day_start_hours, ticks="inside", ticklen=9,
        tickwidth=2, tickcolor="#222222", showticklabels=False, fixedrange=True)
    layout[axkey("x", nl)] = dict(
        domain=dom_x, range=label_range,
        overlaying=xm, anchor="free",
        position=px_y(p["label_axis"]), showgrid=False, zeroline=False,
        showline=False, ticks="", tickmode="array", tickvals=day_mid,
        ticktext=p["days"], tickangle=0,
        tickfont=dict(size=p["day_font"], color="#222222", family=FONT),
        fixedrange=True)

    # acceptability band + school-hours rectangles (fills below grid)
    shapes.append(dict(type="rect", xref=xm, yref=ya, x0=xr[0], x1=xr[1],
                       y0=p["limits"][0], y1=p["limits"][1], fillcolor=band_fill,
                       line=dict(width=0), layer="below"))
    for s0, s1 in zip(school_start, school_end):
        shapes.append(dict(type="rect", xref=xm, yref=ya, x0=s0, x1=s1,
                           y0=p["yr"][0], y1=p["yr"][1], fillcolor=school_fill,
                           line=dict(width=0), layer="below"))
    # outlines above the grid
    shapes.append(dict(type="rect", xref=xm, yref=ya, x0=xr[0], x1=xr[1],
                       y0=p["limits"][0], y1=p["limits"][1],
                       fillcolor="rgba(0,0,0,0)", line=p["band_line"], layer="between"))
    for s0, s1 in zip(school_start, school_end):
        shapes.append(dict(type="rect", xref=xm, yref=ya, x0=s0, x1=s1,
                           y0=p["yr"][0], y1=p["yr"][1],
                           fillcolor="rgba(0,0,0,0)", line=p["rect_line"], layer="between"))

    # data traces
    for ser, name, col in zip(p["series"], p["names"], strategy_colors):
        fig.add_trace(go.Scatter(x=p["hours"], y=ser, name=name, mode="lines",
                                 line=dict(color=col, width=1.3),
                                 xaxis=xm, yaxis=ya, showlegend=False))
    # invisible traces so the overlaid axes get drawn
    for xa in (xb, xl):
        fig.add_trace(go.Scatter(x=xr, y=[None, None], mode="lines", xaxis=xa, yaxis=ya,
                                 showlegend=False, hoverinfo="skip"))

    # axis titles
    annotations.append(dict(text=p["ytitle"], xref="paper", yref="paper",
                            x=px_x(18), y=px_y(p["ytitle_y"]), xanchor="center",
                            yanchor="middle", textangle=-90, showarrow=False,
                            font=dict(size=p["ytitle_font"], color="#222222", family=FONT)))
    annotations.append(dict(text=p["week"], xref="paper", yref="paper",
                            x=px_x(p["week_x"]), y=px_y(p["week_y"]), xanchor="center",
                            yanchor="middle", showarrow=False,
                            font=dict(size=24, color="#222222", family=FONT)))

    # legend block
    sw0, sw1 = 774, 800
    tx = p["leg_text_x"]
    annotations.append(dict(text="Legend", xref="paper", yref="paper",
                            x=px_x(772), y=px_y(p["leg_title_y"]), xanchor="left",
                            yanchor="middle", showarrow=False,
                            font=dict(size=20, color="#222222", family=FONT)))
    ys = [p["leg_start"] + k * 17.8 for k in range(8)]
    for yy, name, col in zip(ys, p["names"], strategy_colors):
        shapes.append(dict(type="line", xref="paper", yref="paper",
                           x0=px_x(sw0), x1=px_x(sw1), y0=px_y(yy), y1=px_y(yy),
                           line=dict(color=col, width=2.6)))
        annotations.append(dict(text=name, xref="paper", yref="paper",
                                x=px_x(tx), y=px_y(yy), xanchor="left", yanchor="middle",
                                showarrow=False,
                                font=dict(size=17, color="#222222", family=FONT)))
    ya1 = ys[-1] + 18.5
    ya2 = ya1 + 18.5
    ya3 = ya2 + 17.5
    shapes.append(dict(type="line", xref="paper", yref="paper",
                       x0=px_x(sw0), x1=px_x(sw1), y0=px_y(ya1), y1=px_y(ya1),
                       line=dict(color="#111111", width=2, dash="6px,4px")))
    shapes.append(dict(type="line", xref="paper", yref="paper",
                       x0=px_x(sw0), x1=px_x(sw1), y0=px_y(ya3), y1=px_y(ya3),
                       line=dict(color="#e0406a", width=2, dash="6px,4px")))
    for yy, txt in ((ya1, "Acceptability"), (ya2, "limits (80%)"), (ya3, "School hours")):
        annotations.append(dict(text=txt, xref="paper", yref="paper",
                                x=px_x(tx), y=px_y(yy), xanchor="left", yanchor="middle",
                                showarrow=False,
                                font=dict(size=17, color="#222222", family=FONT)))

layout["shapes"] = shapes
layout["annotations"] = annotations
fig.update_layout(**layout)
fig.write_html("out.html",
               config={"displayModeBar": False},
               post_script="document.body.style.margin='0px';document.body.style.padding='0px';")
